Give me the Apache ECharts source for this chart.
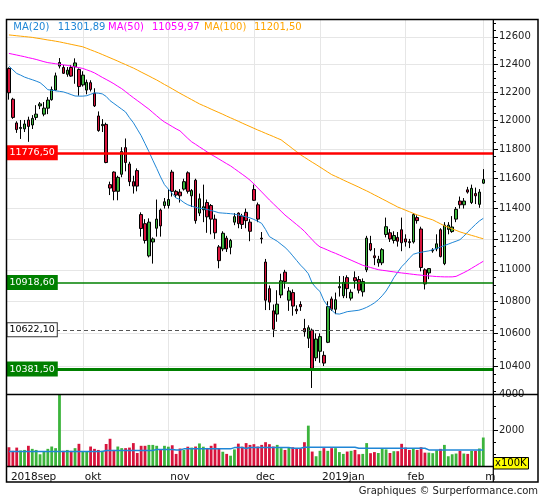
<!DOCTYPE html>
<html><head><meta charset="utf-8">
<script src="https://cdn.jsdelivr.net/npm/echarts@6/dist/echarts.min.js"></script>
<style>html,body{margin:0;padding:0;background:#fff}#c{width:545px;height:500px}</style>
</head><body><div id="c"></div>
<script>
// ---------- categories ----------
const dates = [
'2018-09-04','2018-09-05','2018-09-06','2018-09-07','2018-09-10','2018-09-11','2018-09-12','2018-09-13','2018-09-14','2018-09-17','2018-09-18','2018-09-19','2018-09-20','2018-09-21','2018-09-24','2018-09-25','2018-09-26','2018-09-27','2018-09-28',
'2018-10-01','2018-10-02','2018-10-04','2018-10-05','2018-10-08','2018-10-09','2018-10-10','2018-10-11','2018-10-12','2018-10-15','2018-10-16','2018-10-17','2018-10-18','2018-10-19','2018-10-22','2018-10-23','2018-10-24','2018-10-25','2018-10-26','2018-10-29','2018-10-30','2018-10-31',
'2018-11-01','2018-11-02','2018-11-05','2018-11-06','2018-11-07','2018-11-08','2018-11-09','2018-11-12','2018-11-13','2018-11-14','2018-11-15','2018-11-16','2018-11-19','2018-11-20','2018-11-21','2018-11-22','2018-11-23','2018-11-26','2018-11-27','2018-11-28','2018-11-29','2018-11-30',
'2018-12-03','2018-12-04','2018-12-05','2018-12-06','2018-12-07','2018-12-10','2018-12-11','2018-12-12','2018-12-13','2018-12-14','2018-12-17','2018-12-18','2018-12-19','2018-12-20','2018-12-21','2018-12-27','2018-12-28',
'2019-01-02','2019-01-03','2019-01-04','2019-01-07','2019-01-08','2019-01-09','2019-01-10','2019-01-11','2019-01-14','2019-01-15','2019-01-16','2019-01-17','2019-01-18','2019-01-21','2019-01-22','2019-01-23','2019-01-24','2019-01-25','2019-01-28','2019-01-29','2019-01-30','2019-01-31',
'2019-02-01','2019-02-04','2019-02-05','2019-02-06','2019-02-07','2019-02-08','2019-02-11','2019-02-12','2019-02-13','2019-02-14','2019-02-15','2019-02-18','2019-02-19','2019-02-20','2019-02-21','2019-02-22','2019-02-25','2019-02-26','2019-02-27','2019-02-28',
'2019-03-01','2019-03-04','2019-03-05'];

// ---------- price series ----------
const opens = [12370,12150,11983,11945,11942,12004,11969,12022,12103,12045,12087,12147,12215,12387,12377,12328,12377,12382,12363,
12252,12215,12268,12193,12032,11964,11973,11560,11645,11515,11630,11812,11700,11580,11655,11360,11300,11090,11180,11270,11390,11420,
11420,11645,11515,11510,11530,11640,11485,11590,11370,11392,11440,11420,11330,11148,11135,11205,11145,11310,11370,11350,11375,11310,
11527,11425,11205,11050,10880,10740,10720,10840,10985,10807,10855,10750,10780,10630,10570,10620,10450,
10490,10465,10545,10815,10750,10885,10835,10950,10820,10950,10938,10860,11000,11170,11090,11045,11045,11229,11240,11190,11210,11260,
11200,11182,11180,11340,11265,11000,10980,11122,11135,11260,11040,11262,11248,11330,11450,11425,11525,11440,11500,11428,
11570];
const highs = [12378,12160,11995,12004,12004,12027,12038,12108,12130,12130,12165,12240,12340,12445,12395,12380,12395,12443,12370,
12350,12290,12285,12228,12064,12010,11985,11580,11650,11620,11815,11875,11715,11620,11670,11375,11330,11335,11210,11460,11400,11470,
11530,11660,11525,11530,11600,11650,11530,11600,11500,11560,11460,11430,11360,11160,11250,11220,11200,11370,11375,11365,11400,11330,
11560,11440,11245,11070,10900,10780,10870,10975,11000,10890,10875,10775,10800,10690,10650,10630,10600,
10600,10490,10800,10830,10855,10960,10960,10965,10875,10990,10960,10945,11220,11220,11140,11090,11140,11340,11265,11250,11245,11340,
11230,11200,11370,11355,11280,11010,11010,11140,11230,11270,11310,11310,11350,11410,11480,11470,11545,11560,11540,11530,
11665];
const lows = [12147,12012,11914,11872,11920,11852,11941,12004,12080,12030,12045,12140,12210,12370,12330,12310,12310,12260,12175,
12240,12185,12205,12095,11922,11920,11705,11490,11455,11455,11610,11650,11550,11500,11515,11215,11170,11080,11040,11215,11215,11400,
11400,11480,11470,11440,11520,11500,11410,11300,11350,11310,11240,11230,11200,11010,11120,11115,11100,11290,11270,11265,11270,11185,
11450,11310,11170,10745,10745,10577,10672,10820,10880,10740,10710,10720,10740,10580,10510,10268,10430,
10420,10400,10540,10740,10720,10830,10820,10820,10805,10880,10850,10830,10985,11120,11030,11020,11030,11210,11180,11170,11150,11120,
11150,11140,11170,11300,10990,10875,10940,11110,11120,11080,11030,11230,11240,11310,11400,11400,11500,11430,11430,11405,
11565];
const closes = [12196,12022,11937,11952,11976,11959,12015,12045,12117,12087,12144,12219,12317,12413,12335,12358,12315,12410,12240,
12322,12270,12220,12103,11930,11973,11710,11537,11515,11609,11785,11710,11580,11550,11550,11268,11190,11310,11200,11330,11285,11445,
11460,11515,11490,11485,11580,11515,11520,11320,11465,11412,11345,11330,11240,11059,11237,11135,11190,11346,11300,11295,11320,11250,
11455,11330,11200,10807,10795,10626,10782,10930,10925,10865,10770,10740,10766,10610,10635,10386,10565,
10580,10418,10767,10750,10810,10893,10920,10880,10857,10930,10870,10925,11205,11128,11078,11068,11130,11280,11200,11222,11185,11175,
11180,11176,11360,11320,11015,10910,11008,11127,11168,11085,11290,11290,11278,11395,11425,11450,11510,11535,11485,11510,
11594];

// ---------- moving averages ----------
const ma20 = [12387,12360,12334,12322,12308,12298,12289,12279,12268,12245,12218,12214,12210,12206,12202,12193,12183,12173,12172,12172,12175,
12185,12195,12193,12188,12170,12140,12120,12100,12080,12060,12020,11985,11940,11895,11840,11785,11726,11670,11612,11560,
11530,11500,11470,11460,11440,11425,11416,11408,11402,11400,11394,11387,11380,11372,11370,11368,11366,11363,11357,11351,11345,11338,
11328,11316,11302,11262,11215,11200,11185,11165,11145,11120,11090,11060,11030,11005,10975,10915,10885,
10862,10805,10770,10745,10722,10720,10727,10735,10738,10741,10744,10752,10762,10775,10790,10810,10835,10865,10905,10950,10985,11020,
11045,11075,11100,11108,11113,11118,11122,11130,11138,11147,11157,11166,11176,11185,11195,11218,11245,11270,11295,11318,
11335];
const ma50 = [12479,12473,12467,12461,12455,12448,12442,12435,12427,12419,12412,12408,12404,12400,12396,12392,12387,12381,12376,12370,
12360,12350,12338,12322,12306,12291,12276,12260,12242,12225,12204,12182,12161,12141,12121,12100,12080,12056,12033,12010,
11990,11974,11958,11942,11928,11902,11876,11852,11835,11817,11800,11782,11765,11750,11734,11718,11702,11687,11668,11649,11630,11611,11590,
11565,11538,11511,11484,11457,11432,11407,11382,11357,11336,11315,11294,11273,11250,11222,11195,11168,
11148,11138,11127,11116,11106,11095,11084,11073,11062,11051,11040,11029,11022,11015,11008,11001,10997,10994,10990,10987,10983,
10980,10977,10974,10971,10968,10966,10963,10961,10959,10957,10956,10955,10955,10955,10958,10970,10982,10995,11010,11025,11040,
11055];
const ma100 = [12614,12611,12608,12605,12602,12599,12596,12591,12587,12582,12577,12573,12568,12563,12557,12551,12545,12539,12533,12527,
12516,12505,12494,12483,12471,12459,12447,12435,12423,12410,12398,12385,12373,12359,12344,12330,12316,12301,12287,
12271,12255,12240,12224,12208,12192,12177,12162,12147,12132,12117,12105,12093,12080,12068,12056,12044,12031,12019,
12007,11995,11982,11970,11958,11946,11934,11923,11911,11900,11889,11877,11866,11845,11825,11804,11784,11763,
11746,11729,11712,11696,11679,11662,11645,11628,11616,11604,11591,11579,11567,11555,11543,11530,11518,
11505,11491,11478,11464,11451,11437,11424,11410,11400,11389,11379,11368,11358,11350,11341,11333,11325,
11312,11299,11286,11276,11266,11256,11246,11238,11231,11223,11216,11208,11201];

// ---------- volume (x100K) ----------
const volumes = [1070,870,1050,890,920,1150,980,920,680,830,980,1110,1020,4500,870,920,870,1020,1260,
830,830,1110,980,920,870,1250,1540,920,1110,1020,1020,1050,1300,750,1150,1150,1200,1200,1150,920,1150,
1100,1180,700,1000,920,1100,1050,1110,1280,1100,1030,1150,1270,980,820,700,600,950,1270,1100,1300,1200,
1240,1110,1200,1350,1240,1110,1200,1020,920,1050,1070,1020,1000,1350,2270,830,570,
870,1020,870,1020,1020,800,700,830,870,920,680,700,1300,740,800,750,1020,950,750,850,850,1260,
1050,920,1000,920,1070,770,770,740,900,980,1200,570,680,720,870,720,700,870,870,1000,
1610];
const volMA = [830,830,830,830,830,830,830,830,830,830,830,830,830,830,830,830,830,830,830,830,830,830,830,830,830,
885,885,885,885,885,885,885,885,885,885,885,885,885,
950,950,950,950,950,920,920,
980,980,980,980,980,980,980,980,980,980,980,980,980,
1050,1050,1050,1000,
1050,1050,1050,1050,1050,1050,1050,1050,1050,1050,1050,
1017,1017,1017,
1070,1070,1070,1070,1070,1070,1070,1070,1070,1070,1070,1070,1070,1070,
1017,1017,1017,1017,1017,1017,1017,1017,1017,1017,1017,1017,1017,1017,1017,1017,1017,1017,
920,920,920,920,920,920,920,920,920,920,920,920,920,920,920];

// ---------- tick labels / annotations ----------
const priceLabels = [10400,10600,10800,11000,11200,11400,11600,11800,12000,12200,12400,12600];
const monthStarts = ['2018-09-04','2018-10-01','2018-11-01','2018-12-03','2019-01-02','2019-02-01','2019-03-01'];
const monthNames = ['2018sep','okt','nov','dec','2019jan','feb','m'];
const supportValues = [11776.5, 10918.6, 10622.1, 10381.5];
const supportLabels = ['11776,50','10918,60','10622,10','10381,50'];
const legendNames = ['MA(20)','MA(50)','MA(100)'];
const legendValues = ['11301,89','11059,97','11201,50'];

// ---------- styles ----------
const FONT = 'DejaVu Sans';
const UP = '#3cb43c', DOWN = '#d8143c';
const C20 = '#1f86d6', C50 = '#ff00ff', C100 = '#ffa500';
const GRIDC = '#e6e6e6';
const supportLine = [
  {color:'#ff0000', width:2.6, type:'solid'},
  {color:'#008000', width:1.6, type:'solid'},
  {color:'#555555', width:1, type:[4,3]},
  {color:'#008000', width:3, type:'solid'}];
const supportBox = [
  {bg:'#ff0000', fg:'#ffffff', bd:'#ff0000'},
  {bg:'#008000', fg:'#ffffff', bd:'#008000'},
  {bg:'#ffffff', fg:'#000000', bd:'#333333'},
  {bg:'#008000', fg:'#ffffff', bd:'#008000'}];

const minorTicks = [];
for (let v = 10250; v <= 12700; v += 50) if (v % 200 !== 0) minorTicks.push(v);

const candleData = opens.map((o, i) => [o, closes[i], lows[i], highs[i]]);
const monthIdx = monthStarts.map(d => dates.indexOf(d));
const isMonth = (i) => monthIdx.indexOf(i) >= 0;
const isGridMonth = (i) => monthIdx.indexOf(i) > 0;

const chart = echarts.init(document.getElementById('c'));
const P_MIN = 10229, P_MAX = 12728;

const legendGraphics = [];
const legendX = [13.3, 57.7, 108, 152, 204, 254];
const legendCols = [C20, C20, C50, C50, C100, C100];
const legendTxt = [legendNames[0], legendValues[0], legendNames[1], legendValues[1], legendNames[2], legendValues[2]];
legendTxt.forEach((t, i) => legendGraphics.push({
  type:'text', z:110, silent:true,
  style:{text:t, x:legendX[i], y:27, fill:legendCols[i], font:'10px "' + FONT + '"', textVerticalAlign:'middle'}
}));

chart.setOption({
  animation:false,
  backgroundColor:'#ffffff',
  textStyle:{fontFamily:FONT},
  grid:[
    {left:7, right:52, top:19.5, height:375, containLabel:false},
    {left:7, right:52, top:394.5, height:72, containLabel:false}
  ],
  xAxis:[
    {type:'category', gridIndex:0, data:dates, boundaryGap:true,
     axisLine:{show:false}, axisTick:{show:false}, axisLabel:{show:false},
     splitLine:{show:true, alignWithLabel:true, interval:(i)=>isGridMonth(i), lineStyle:{color:GRIDC, width:1}}},
    {type:'category', gridIndex:1, data:dates, boundaryGap:true,
     axisLine:{show:false}, axisTick:{show:false},
     axisLabel:{show:true, interval:(i)=>isMonth(i), align:'left', margin:5, padding:[0,0,0,2],
       fontSize:10.5, color:'#111', fontFamily:FONT,
       formatter:(v)=>{const k = monthStarts.indexOf(v); return k>=0 ? monthNames[k] : '';}},
     splitLine:{show:true, alignWithLabel:true, interval:(i)=>isGridMonth(i), lineStyle:{color:GRIDC, width:1}}}
  ],
  yAxis:[
    {type:'log', logBase:10, gridIndex:0, position:'right', min:P_MIN, max:P_MAX,
     axisLine:{show:true, lineStyle:{color:'#000'}},
     axisTick:{show:true, customValues:priceLabels, length:5, lineStyle:{color:'#000'}},
     axisLabel:{show:true, customValues:priceLabels, margin:6, fontSize:10, color:'#222', fontFamily:FONT,
       formatter:(v)=>String(Math.round(v))},
     splitLine:{show:true, customValues:priceLabels, lineStyle:{color:GRIDC}}},
    {type:'log', logBase:10, gridIndex:0, position:'right', min:P_MIN, max:P_MAX,
     axisLine:{show:false},
     axisTick:{show:true, customValues:minorTicks, length:3, lineStyle:{color:'#000'}},
     axisLabel:{show:false}, splitLine:{show:false}},
    {type:'value', gridIndex:1, position:'right', min:0, max:4000, interval:2000,
     axisLine:{show:true, lineStyle:{color:'#000'}},
     axisTick:{show:true, length:5, lineStyle:{color:'#000'}},
     minorTick:{show:true, splitNumber:3, length:3, lineStyle:{color:'#000'}},
     axisLabel:{show:true, margin:6, fontSize:10, color:'#222', fontFamily:FONT,
       formatter:(v)=> v===0 ? '' : String(v)},
     splitLine:{show:true, lineStyle:{color:GRIDC}}}
  ],
  series:[
    {type:'candlestick', name:'price', xAxisIndex:0, yAxisIndex:0, data:candleData, barWidth:3,
     itemStyle:{color:UP, color0:DOWN, borderColor:'#000', borderColor0:'#000', borderWidth:1},
     markLine:{silent:true, symbol:['none','none'], animation:false, label:{show:false},
       data: supportValues.map((v,i)=>({yAxis:v, lineStyle:{color:supportLine[i].color, width:supportLine[i].width, type:supportLine[i].type}}))},
     markPoint:{silent:true, animation:false,
       data: supportValues.map((v,i)=>({coord:[dates[0], v], symbol:'rect', symbolSize:1,
         itemStyle:{color:'rgba(0,0,0,0)'},
         label:{show:true, position:'right', distance:0, offset:[-2,0], formatter:supportLabels[i],
           backgroundColor:supportBox[i].bg, color:supportBox[i].fg, borderColor:supportBox[i].bd, borderWidth:1,
           padding:[2,2,1,2], fontSize:9.5, fontFamily:FONT}}))}
    },
    {type:'line', name:'MA20', xAxisIndex:0, yAxisIndex:0, data:ma20, showSymbol:false, symbol:'none',
     lineStyle:{color:C20, width:1}, z:3},
    {type:'line', name:'MA50', xAxisIndex:0, yAxisIndex:0, data:ma50, showSymbol:false, symbol:'none',
     lineStyle:{color:C50, width:1}, z:3},
    {type:'line', name:'MA100', xAxisIndex:0, yAxisIndex:0, data:ma100, showSymbol:false, symbol:'none',
     lineStyle:{color:C100, width:1}, z:3},
    {type:'bar', name:'volume', xAxisIndex:1, yAxisIndex:2, data:volumes, barWidth:2.8,
     itemStyle:{color:(p)=> closes[p.dataIndex] >= opens[p.dataIndex] ? UP : DOWN}},
    {type:'line', name:'volMA', xAxisIndex:1, yAxisIndex:2, data:volMA, showSymbol:false, symbol:'none',
     step:'middle', lineStyle:{color:C20, width:1.5}, z:4}
  ],
  graphic: legendGraphics.concat([
    {type:'rect', z:100, silent:true, shape:{x:6.5, y:19.5, width:531.5, height:462.5}, style:{fill:'none', stroke:'#000', lineWidth:1.5}},
    {type:'line', z:100, silent:true, shape:{x1:493.3, y1:19.5, x2:493.3, y2:482}, style:{stroke:'#000', lineWidth:1.2}},
    {type:'line', z:100, silent:true, shape:{x1:6.5, y1:394.5, x2:538, y2:394.5}, style:{stroke:'#000', lineWidth:1.5}},
    {type:'line', z:100, silent:true, shape:{x1:6.5, y1:466.5, x2:493.3, y2:466.5}, style:{stroke:'#000', lineWidth:1.5}},
    {type:'rect', z:105, silent:true, shape:{x:493.5, y:457.5, width:35, height:11.5}, style:{fill:'#ffff00', stroke:'#000', lineWidth:1}},
    {type:'text', z:106, silent:true, style:{text:'x100K', x:495, y:463.5, fill:'#000', font:'10px "' + FONT + '"', textVerticalAlign:'middle'}},
    {type:'text', z:106, silent:true, style:{text:'Graphiques \u00a9 Surperformance.com', x:538, y:491, fill:'#222', font:'10px "' + FONT + '"', textAlign:'right', textVerticalAlign:'middle'}}
  ])
});
</script>
</body></html>
